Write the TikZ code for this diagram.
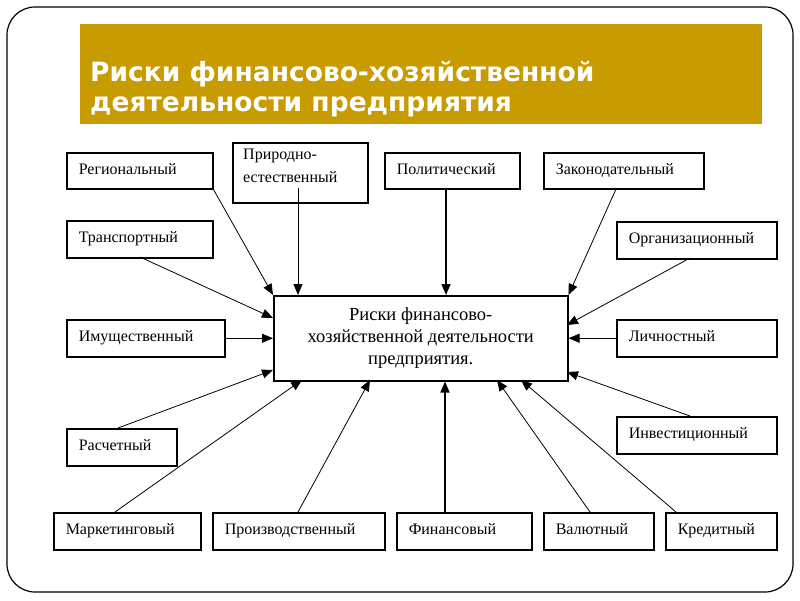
\documentclass[tikz,border=0pt]{standalone}
\usepackage{fontspec}
\setmainfont{Liberation Serif}
\newfontfamily\titlefont{DejaVu Sans}
\usetikzlibrary{arrows.meta}
\definecolor{banner}{RGB}{200,155,0}
\begin{document}
\begin{tikzpicture}[x=1pt,y=-1pt,
  box/.style={draw,line width=1.5pt,anchor=north west,inner xsep=12pt,inner ysep=0pt,
    align=left,text height=11pt,text depth=4pt,font=\fontsize{16}{18}\selectfont},
  ttl/.style={anchor=base west,text=white,inner sep=0pt,
    font=\titlefont\bfseries\fontsize{26.5}{30}\selectfont},
  arr/.style={line width=0.8pt,-{Triangle[length=11pt,width=9pt]}},
  tarr/.style={line width=1.6pt,-{Triangle[length=11pt,width=9pt]}}]
\useasboundingbox (0,0) rectangle (800,600);
% outer frame
\draw[line width=1.2pt,rounded corners=28pt] (7,7) rectangle (793,592);
% banner
\fill[banner] (80,24) rectangle (762,124);
\node[ttl] (title1) at (90,81) {Риски финансово-хозяйственной};
\node[ttl] (title2) at (90,111) {деятельности предприятия};
% center
\node[draw,line width=1.5pt,minimum width=294pt,minimum height=85pt,anchor=north west,
  align=center,font=\fontsize{18.5}{22}\selectfont] (c) at (273,295)
  {Риски финансово-\\хозяйственной деятельности\\предприятия.};
% boxes
\node[box,text width=122pt,minimum height=36pt] (reg) at (66,152) {Региональный};
\node[draw,line width=1.5pt,anchor=north west,minimum width=135pt,minimum height=60pt] (prir) at (232,142) {};
\node[anchor=north west,align=left,inner sep=0pt,font=\fontsize{16}{23}\selectfont] (prirt) at (243,149) {Природно-\\естественный};
\node[box,text width=111pt,minimum height=36pt] (pol) at (384,152) {Политический};
\node[box,text width=136pt,minimum height=36pt] (zak) at (543,152) {Законодательный};
\node[box,text width=122pt,minimum height=37pt] (tr) at (66,220) {Транспортный};
\node[box,text width=136pt,minimum height=37pt] (org) at (616,221) {Организационный};
\node[box,text width=134pt,minimum height=37pt] (im) at (66,319) {Имущественный};
\node[box,text width=136pt,minimum height=37pt] (lich) at (616,319) {Личностный};
\node[box,text width=86pt,minimum height=37pt] (ras) at (66,428) {Расчетный};
\node[box,text width=136pt,minimum height=37pt] (inv) at (616,416) {Инвестиционный};
\node[box,text width=123pt,minimum height=37pt] (mar) at (53,512) {Маркетинговый};
\node[box,text width=148pt,minimum height=37pt] (pro) at (212,512) {Производственный};
\node[box,text width=111pt,minimum height=37pt] (fin) at (396,512) {Финансовый};
\node[box,text width=86pt,minimum height=37pt] (val) at (543,512) {Валютный};
\node[box,text width=87pt,minimum height=37pt] (kre) at (665,512) {Кредитный};
% anchor coordinates
\coordinate (prirs) at (298,188);
\coordinate (cl1) at (273,318);
\coordinate (cl3) at (273,370);
\coordinate (cr1) at (567,325);
\coordinate (cr3) at (567,372);
% arrows
\draw[arr] (reg.south east) -- (c.north west);
\draw[arr] (prirs) -- (prirs |- c.north);
\draw[tarr] (446,189) coordinate (pols) -- (pols |- c.north);
\draw[arr] (616,189) coordinate (zaks) -- (c.north east);
\draw[arr] (140,257) coordinate (trs) -- (cl1);
\draw[arr] (690,258) coordinate (orgs) -- (cr1);
\draw[arr] (im.east) -- (im.east -| c.west);
\draw[arr] (lich.west) -- (lich.west -| c.east);
\draw[arr] (118,428) coordinate (rasn) -- (cl3);
\draw[arr] (690,416) coordinate (invn) -- (cr3);
\draw[arr] (115,512) coordinate (marn) -- (302,380);
\draw[arr] (298,512) coordinate (pron) -- (370,380);
\draw[tarr] (445,512) coordinate (finn) -- (finn |- c.south);
\draw[arr] (590,512) coordinate (valn) -- (497,380);
\draw[arr] (676,512) coordinate (kren) -- (521,380);
\end{tikzpicture}
\end{document}
